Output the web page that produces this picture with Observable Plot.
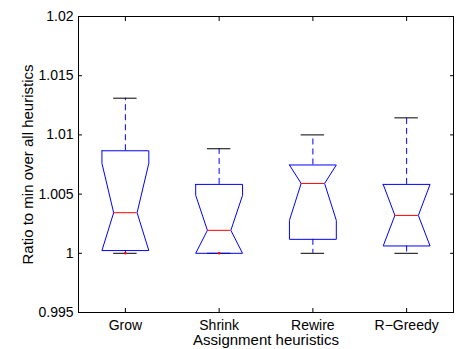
<!DOCTYPE html>
<html><head><meta charset="utf-8">
<script src="https://cdn.jsdelivr.net/npm/d3@7"></script>
<script src="https://cdn.jsdelivr.net/npm/@observablehq/plot@0.6"></script>
<style>body{margin:0;background:#fff} svg{display:block}</style>
</head><body><div id="chart"></div>
<script>
const categories = ["Grow", "Shrink", "Rewire", "R\u2212Greedy"];
const whiskerLow = [1.0, 1.0, 1.0, 1.0];
const q1 = [1.00023, 1.0, 1.00118, 1.00062];
const notchLow = [1.00023, 1.0, 1.00278, 1.00062];
const median = [1.00343, 1.00194, 1.0059, 1.0032];
const notchHigh = [1.0076, 1.0049, 1.00746, 1.00582];
const q3 = [1.00866, 1.00582, 1.00746, 1.00582];
const whiskerHigh = [1.0131, 1.00883, 1.0100, 1.01144];
const outlierCategory = [1, 2];
const outlierValue = [1.0, 1.0];
const yTicks = [0.995, 1, 1.005, 1.01, 1.015, 1.02];
const yTickLabels = ["0.995", "1", "1.005", "1.01", "1.015", "1.02"];
const xLabel = "Assignment heuristics";
const yLabel = "Ratio to min over all heuristics";

const W = 0.25, N = 0.125, CAP = 0.125;
const idx = d3.range(categories.length);
const pos = idx.map(i => i + 1);

const boxes = idx.flatMap(i => {
  const x = pos[i];
  const pts = [
    [x - W, q3[i]], [x + W, q3[i]], [x + W, notchHigh[i]], [x + N, median[i]],
    [x + W, notchLow[i]], [x + W, q1[i]], [x - W, q1[i]], [x - W, notchLow[i]],
    [x - N, median[i]], [x - W, notchHigh[i]], [x - W, q3[i]]
  ];
  return pts.map(([px, py]) => ({cat: categories[i], x: px, y: py}));
});

const blue = "#0000ff", red = "#ff0000";

const chart = Plot.plot({
  width: 457,
  height: 349,
  marginLeft: 78,
  marginTop: 16,
  marginRight: 4,
  marginBottom: 37,
  style: {fontFamily: "'Liberation Sans', Arial, Helvetica, sans-serif", fontSize: "14px", background: "#fff", overflow: "visible"},
  x: {domain: [0.5, 4.5]},
  y: {domain: [0.995, 1.02]},
  marks: [
    Plot.ruleX(idx, {x: pos, y1: q3, y2: whiskerHigh, stroke: blue, strokeDasharray: "6,4"}),
    Plot.ruleX(idx, {x: pos, y1: q1, y2: whiskerLow, stroke: blue, strokeDasharray: "6,4"}),
    Plot.ruleY(idx, {y: whiskerHigh, x1: pos.map(p => p - CAP), x2: pos.map(p => p + CAP), stroke: "black"}),
    Plot.ruleY(idx, {y: whiskerLow, x1: pos.map(p => p - CAP), x2: pos.map(p => p + CAP), stroke: "black"}),
    Plot.line(boxes, {x: "x", y: "y", z: "cat", stroke: blue, strokeWidth: 1}),
    Plot.ruleY(idx, {y: median, x1: pos.map(p => p - N), x2: pos.map(p => p + N), stroke: red}),
    Plot.dot(outlierCategory, {x: outlierCategory, y: outlierValue, r: 1.3, fill: red, stroke: null}),
    Plot.frame({stroke: "black"}),
    Plot.axisY(yTicks, {anchor: "left", tickSize: -4, tickPadding: 9, tickFormat: d => yTickLabels[yTicks.indexOf(d)], label: null, fontSize: 14}),
    Plot.axisY(yTicks, {anchor: "right", tickSize: -4, tickFormat: () => "", label: null}),
    Plot.axisX(pos, {anchor: "bottom", tickSize: -4, tickPadding: 12, tickFormat: d => categories[d - 1], label: null, fontSize: 14}),
    Plot.axisX(pos, {anchor: "top", tickSize: -4, tickFormat: () => "", label: null}),
    Plot.text([yLabel], {frameAnchor: "left", dx: -50, rotate: -90, textAnchor: "middle", lineAnchor: "middle", fontSize: 15, fill: "black"}),
    Plot.text([xLabel], {frameAnchor: "bottom", dy: 28, textAnchor: "middle", lineAnchor: "middle", fontSize: 15, fill: "black"})
  ]
});
document.getElementById("chart").appendChild(chart);
</script>
</body></html>
